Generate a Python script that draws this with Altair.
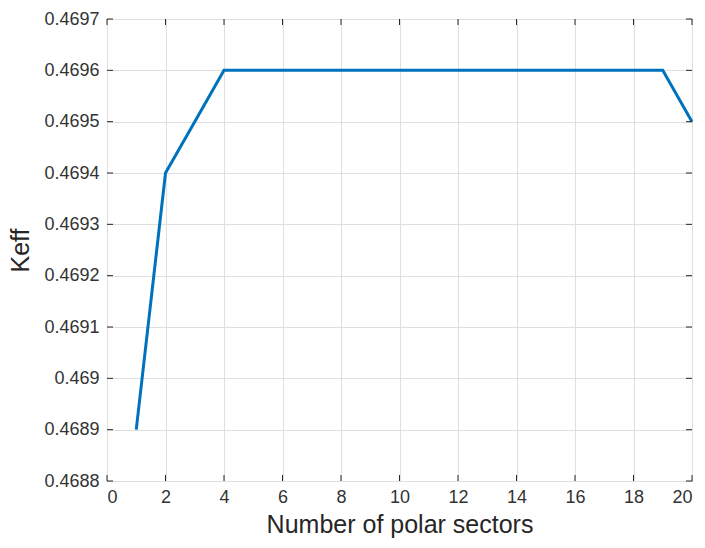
import altair as alt
import pandas as pd

# Keff vs number of polar sectors
sectors = list(range(1, 21))
keff = [0.4689, 0.4694, 0.4695] + [0.4696] * 16 + [0.4695]

x_ticks = list(range(0, 21, 2))
y_ticks = [0.4688, 0.4689, 0.4690, 0.4691, 0.4692, 0.4693, 0.4694, 0.4695, 0.4696, 0.4697]

W, H = 585, 462
AX = "#262626"
FONT = "Liberation Sans"

df = pd.DataFrame({"x": sectors, "y": keff})
xt = pd.DataFrame({"x": x_ticks})
yt = pd.DataFrame({"y": y_ticks})

xscale = alt.Scale(domain=[0, 20], nice=False)
yscale = alt.Scale(domain=[0.4688, 0.4697], nice=False, zero=False)

line = alt.Chart(df).mark_line(color="#0072BD", strokeWidth=3).encode(
    x=alt.X("x:Q", scale=xscale,
            axis=alt.Axis(values=x_ticks, title="Number of polar sectors", format="d")),
    y=alt.Y("y:Q", scale=yscale,
            axis=alt.Axis(values=y_ticks, title="Keff", labelExpr="format(datum.value, '.4~f')")),
)

# inward tick marks on all four sides of the box
tick_style = dict(color=AX, strokeWidth=1)
bottom = alt.Chart(xt).mark_rule(**tick_style).encode(
    x=alt.X("x:Q", scale=xscale), y=alt.value(H), y2=alt.value(H - 6))
top = alt.Chart(xt).mark_rule(**tick_style).encode(
    x=alt.X("x:Q", scale=xscale), y=alt.value(0), y2=alt.value(6))
left = alt.Chart(yt).mark_rule(**tick_style).encode(
    y=alt.Y("y:Q", scale=yscale), x=alt.value(0), x2=alt.value(6))
right = alt.Chart(yt).mark_rule(**tick_style).encode(
    y=alt.Y("y:Q", scale=yscale), x=alt.value(W), x2=alt.value(W - 6))

chart = (
    alt.layer(line, bottom, top, left, right)
    .properties(
        width=W, height=H,
        autosize=alt.AutoSizeParams(type="none"),
        padding={"left": 107, "top": 19, "right": 13, "bottom": 67},
        background="white",
    )
    .configure_view(stroke=AX, strokeWidth=1)
    .configure_axis(
        domain=False, ticks=False,
        grid=True, gridColor="#dfdfdf", gridWidth=1,
        labelFont=FONT, labelFontSize=18, labelColor="#333333",
        titleFont=FONT, titleFontSize=25, titleColor=AX, titleFontWeight="normal",
    )
    .configure_axisX(labelPadding=7, titlePadding=6)
    .configure_axisY(labelPadding=8, titlePadding=10)
)

chart.save("out.html", embed_options={"renderer": "svg", "actions": False})
